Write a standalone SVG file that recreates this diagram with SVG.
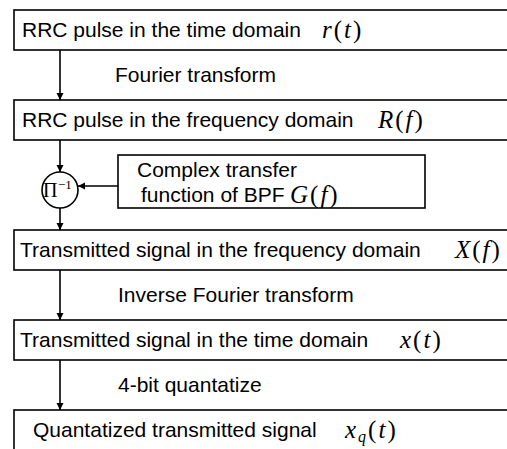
<svg xmlns="http://www.w3.org/2000/svg" width="507" height="449" viewBox="0 0 507 449">
<style>
.box{fill:#fff;stroke:#000;stroke-width:1.6}
.t{font-family:"Liberation Sans",Arial,sans-serif;font-size:21px;fill:#000}
.m{font-family:"Liberation Serif","Times New Roman",serif;font-size:25px;letter-spacing:2px;fill:#000}
.mi{font-style:italic}
.c{fill:none;stroke:#000;stroke-width:1.6}
</style>
<defs>
<marker id="ah" viewBox="0 0 10 10" refX="10" refY="5" markerWidth="7" markerHeight="8" markerUnits="userSpaceOnUse" orient="auto">
<path d="M0,0 L10,5 L0,10 Z" fill="#000"/>
</marker>
</defs>
<rect width="507" height="449" fill="#fff"/>
<g id="connectors">
<line class="c" x1="60" y1="50" x2="60" y2="100" marker-end="url(#ah)"/>
<line class="c" x1="60" y1="140" x2="60" y2="172" marker-end="url(#ah)"/>
<line class="c" x1="118" y1="186" x2="78" y2="186" marker-end="url(#ah)"/>
<line class="c" x1="60" y1="208" x2="60" y2="230" marker-end="url(#ah)"/>
<line class="c" x1="60" y1="270" x2="60" y2="320" marker-end="url(#ah)"/>
<line class="c" x1="60" y1="360" x2="60" y2="410" marker-end="url(#ah)"/>
<text class="t" x="115" y="82">Fourier transform</text>
<text class="t" x="118" y="302">Inverse Fourier transform</text>
<text class="t" x="118" y="392">4-bit quantatize</text>
</g>
<g id="n1">
<rect class="box" x="14" y="10" width="520" height="40"/>
<text class="t" x="22" y="37">RRC pulse in the time domain</text>
<text class="m" x="322" y="38"><tspan class="mi">r</tspan>(<tspan class="mi">t</tspan>)</text>
</g>
<g id="n2">
<rect class="box" x="14" y="100" width="520" height="40"/>
<text class="t" x="22" y="127">RRC pulse in the frequency domain</text>
<text class="m" x="378" y="128"><tspan class="mi">R</tspan>(<tspan class="mi">f</tspan>)</text>
</g>
<g id="mult">
<circle cx="60" cy="190" r="18" fill="#fff" stroke="#000" stroke-width="1.6"/>
<text x="43" y="197" font-family="Liberation Serif,serif" font-size="20" fill="#000">Π</text>
<text x="58" y="189" font-family="Liberation Serif,serif" font-size="13" fill="#000">−1</text>
</g>
<g id="g">
<rect class="box" x="118" y="155" width="307" height="53"/>
<text class="t" x="137" y="177">Complex transfer</text>
<text class="t" x="141" y="202">function of BPF</text>
<text class="m" x="290" y="203"><tspan class="mi">G</tspan>(<tspan class="mi">f</tspan>)</text>
</g>
<g id="n3">
<rect class="box" x="14" y="230" width="520" height="40"/>
<text class="t" x="20" y="257">Transmitted signal in the frequency domain</text>
<text class="m" x="455" y="258"><tspan class="mi">X</tspan>(<tspan class="mi">f</tspan>)</text>
</g>
<g id="n4">
<rect class="box" x="14" y="320" width="520" height="40"/>
<text class="t" x="20" y="347">Transmitted signal in the time domain</text>
<text class="m" x="400" y="348"><tspan class="mi">x</tspan>(<tspan class="mi">t</tspan>)</text>
</g>
<g id="n5">
<rect class="box" x="14" y="410" width="520" height="60"/>
<text class="t" x="33" y="437">Quantatized transmitted signal</text>
<text class="m" x="345" y="438"><tspan class="mi">x</tspan><tspan class="mi" font-size="16" dy="4">q</tspan><tspan dy="-4">(</tspan><tspan class="mi">t</tspan>)</text>
</g>
</svg>
